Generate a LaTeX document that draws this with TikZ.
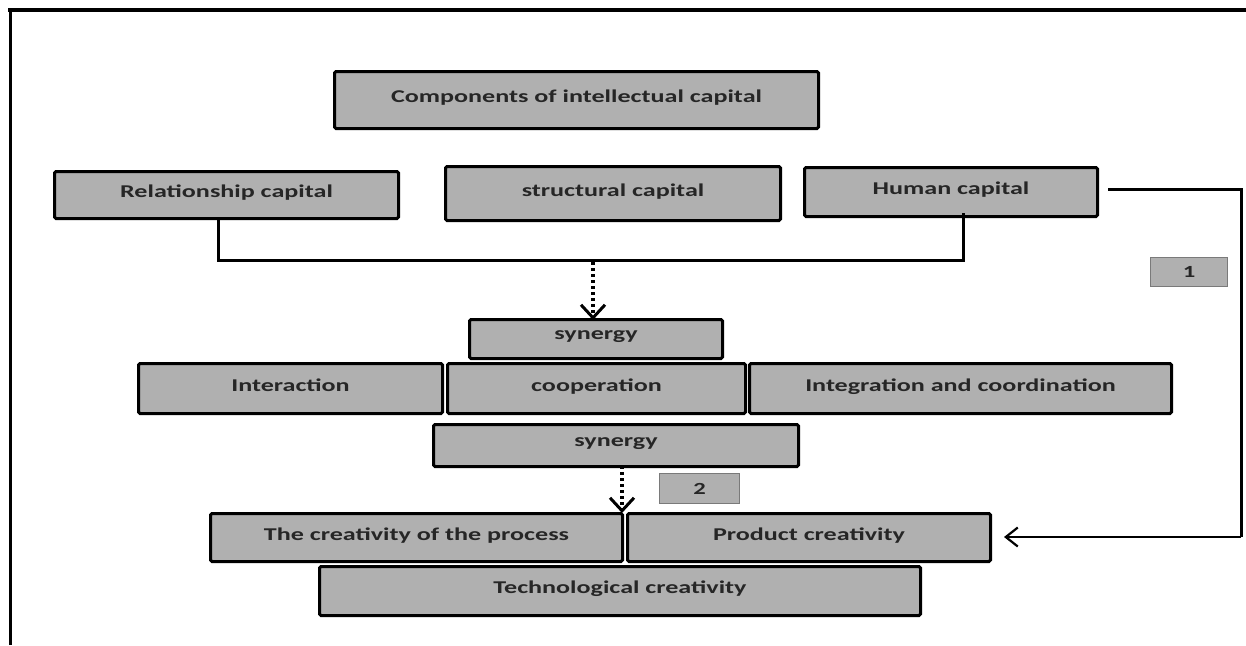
\documentclass[tikz,border=0pt]{standalone}
\usepackage{fontspec}
\setmainfont{Carlito}[FakeStretch=1.45]
\usetikzlibrary{arrows.meta}
\definecolor{boxgray}{HTML}{B0B0B0}
\definecolor{txtgray}{HTML}{262626}
\definecolor{tagline}{HTML}{7A7A7A}
\tikzset{
  box/.style={draw=black, line width=3pt, fill=boxgray, rounded corners=1.5pt,
    inner sep=0pt, text=txtgray, font=\bfseries\fontsize{18}{21}\selectfont, text depth=7pt},
  tagbox/.style={draw=tagline, line width=1.2pt, fill=boxgray, inner sep=0pt,
    text=txtgray, font=\bfseries\fontsize{17}{19}\selectfont},
  heavy/.style={line width=3pt, draw=black},
  dotarrow/.style={line width=3.5pt, dash pattern=on 3pt off 3pt,
    -{Straight Barb[length=13pt, width=24pt, line width=3pt]}},
  thinarrow/.style={line width=1.6pt, -{Straight Barb[length=12pt, width=19pt, line width=2.2pt]}}
}
\newcommand\mkbox[7]{\node[#1, minimum width={(#5-#3-3)*1pt}, minimum height={(#6-#4-3)*1pt}]
  (#2) at ({(#3+#5)/2},{(#4+#6)/2}) {#7};}
\begin{document}
\begin{tikzpicture}[x=1pt, y=-1pt]
\useasboundingbox (0,0) rectangle (1246,645);
\fill[white] (0,0) rectangle (1246,645);
% frame
\coordinate (fa) at (8,10);
\coordinate (fb) at (1246,10);
\coordinate (fc) at (10,645);
\draw[line width=4pt] (fa) -- (fb);
\draw[line width=3pt] (fc) -- (10,9);

\mkbox{box}{comp}{333}{70}{820}{130}{Components of intellectual capital}
\mkbox{box}{rel}{53}{170}{400}{220}{Relationship capital}
\mkbox{box}{struct}{444}{165}{782}{222}{structural capital}
\mkbox{box}{human}{803}{166}{1099}{218}{Human capital}
\mkbox{box}{syn1}{468}{318}{724}{360}{synergy}
\mkbox{box}{inter}{137}{362}{444}{415}{Interaction}
\mkbox{box}{coop}{446}{362}{747}{415}{cooperation}
\mkbox{box}{integ}{748}{362}{1173}{415}{Integration and coordination}
\mkbox{box}{syn2}{432}{423}{800}{468}{synergy}
\mkbox{box}{proc}{209}{512}{624}{563}{The creativity of the process}
\mkbox{box}{prod}{626}{512}{992}{563}{Product creativity}
\mkbox{box}{tech}{318}{565}{922}{617}{Technological creativity}
\mkbox{tagbox}{tag1}{1149}{256}{1229}{288}{1}
\mkbox{tagbox}{tag2}{658}{472}{741}{505}{2}

% bracket joining relationship and human capital
\coordinate (bl) at (218,260);
\coordinate (br) at (963,260);
\coordinate (m1) at (593,262);
\draw[heavy] ([yshift=2pt]bl |- rel.south) -- (bl) -- (br) -- ([yshift=5pt]br |- human.south);
\draw[dotarrow] (m1) -- ([yshift=-2pt]m1 |- syn1.north);

% synergy to creativity
\coordinate (m2) at (622,468);
\draw[dotarrow] ([yshift=2pt]m2 |- syn2.south) -- ([yshift=-1pt]m2 |- proc.north);

% human capital loop
\coordinate (hc) at (1241,189);
\coordinate (hb) at (1241,537);
\draw[heavy] ([xshift=9pt]hc -| human.east) -- (hc) -- (hb);
\draw[thinarrow] (hb) -- ([xshift=12pt]hb -| prod.east);
\end{tikzpicture}
\end{document}
